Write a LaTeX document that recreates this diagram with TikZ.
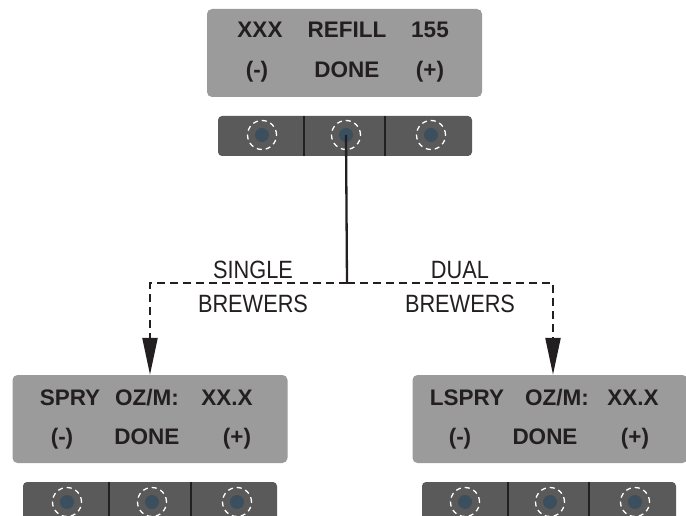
\documentclass[tikz,border=0pt]{standalone}
\usepackage{fontspec}
\setmainfont{Liberation Sans}
\newfontfamily\lblfont[FakeStretch=0.87]{Liberation Sans}
\usetikzlibrary{arrows.meta}
\definecolor{dispgray}{HTML}{9B9B9B}
\definecolor{bargray}{HTML}{5A5A5B}
\definecolor{dotblue}{HTML}{3C4F5E}
\definecolor{ink}{HTML}{231F20}
\tikzset{
  disp/.style={draw=none, fill=dispgray, rounded corners=5pt, minimum width=275pt, minimum height=88pt, inner sep=0pt},
  bar/.style={draw=none, fill=bargray, rounded corners=4pt, minimum width=254pt, minimum height=40pt, inner sep=0pt},
  btn/.style={circle, draw=none, fill=dotblue, minimum size=14pt, inner sep=0pt, outer sep=0pt},
  ring/.style={circle, draw=white, line width=1.3pt, dash pattern=on 5pt off 4pt, minimum size=29pt, inner sep=0pt},
  divider/.style={draw=ink, line width=1.4pt},
  dtxt/.style={anchor=base, inner sep=0pt, text=ink, font=\fontsize{22.5}{24}\selectfont\bfseries},
  ltxt/.style={anchor=base, inner sep=0pt, text=ink, font=\fontsize{25}{27}\selectfont\lblfont},
  solidwire/.style={draw=ink, line width=2.3pt},
  dashwire/.style={draw=ink, line width=2.3pt, dash pattern=on 8pt off 5pt, -{Triangle[length=37pt,width=15pt]}},
}
\begin{document}
\begin{tikzpicture}[x=1pt,y=-1pt]
\useasboundingbox (0,0) rectangle (686,516);
\clip (0,0) rectangle (686,516);
% ---------- top unit ----------
\node[disp] (d0) at (344.5,53) {};
\node[dtxt] (d0a) at (260,38) {XXX};
\node[dtxt] (d0b) at (347,38) {REFILL};
\node[dtxt] (d0c) at (430,38) {155};
\node[dtxt] (d0d) at (257,78) {(-)};
\node[dtxt] (d0e) at (347,78) {DONE};
\node[dtxt] (d0f) at (430,78) {(+)};
\node[bar] (bar0) at (345,136) {};
\draw[divider] (304,116) -- (304,156);
\draw[divider] (385,116) -- (385,156);
\foreach \x/\n in {262/a,346/b,431/c}{
  \node[btn] (b0\n) at (\x,135) {};
  \node[ring] (r0\n) at (\x,135) {};
}
% ---------- bottom left ----------
\node[disp] (d1) at (150,419) {};
\node[dtxt] (d1a) at (70,405) {SPRY};
\node[dtxt] (d1b) at (147,405) {OZ/M:};
\node[dtxt] (d1c) at (227,405) {XX.X};
\node[dtxt] (d1d) at (62,444) {(-)};
\node[dtxt] (d1e) at (147,444) {DONE};
\node[dtxt] (d1f) at (237,444) {(+)};
\node[bar] (bar1) at (150,502) {};
\draw[divider] (109,482) -- (109,520);
\draw[divider] (191,482) -- (191,520);
\foreach \x/\n in {67/a,152/b,237/c}{
  \node[btn] (b1\n) at (\x,502) {};
  \node[ring] (r1\n) at (\x,502) {};
}
% ---------- bottom right ----------
\node[disp] (d2) at (550,419) {};
\node[dtxt] (d2a) at (467,405) {LSPRY};
\node[dtxt] (d2b) at (557,405) {OZ/M:};
\node[dtxt] (d2c) at (633,405) {XX.X};
\node[dtxt] (d2d) at (460,444) {(-)};
\node[dtxt] (d2e) at (545,444) {DONE};
\node[dtxt] (d2f) at (635,444) {(+)};
\node[bar] (bar2) at (549,502) {};
\draw[divider] (508,482) -- (508,520);
\draw[divider] (589,482) -- (589,520);
\foreach \x/\n in {465/a,550/b,635/c}{
  \node[btn] (b2\n) at (\x,502) {};
  \node[ring] (r2\n) at (\x,502) {};
}
% ---------- labels ----------
\node[ltxt] (l1) at (253,278) {SINGLE};
\node[ltxt] (l2) at (253,312) {BREWERS};
\node[ltxt] (l3) at (460,278) {DUAL};
\node[ltxt] (l4) at (460,312) {BREWERS};
% ---------- connectors ----------
\coordinate (j) at (347,283);
\draw[solidwire] (b0b.center) -- (j);
\draw[dashwire] (j) -| (d1.north);
\draw[dashwire] (j) -| ([xshift=3pt]d2.north);
\end{tikzpicture}
\end{document}
